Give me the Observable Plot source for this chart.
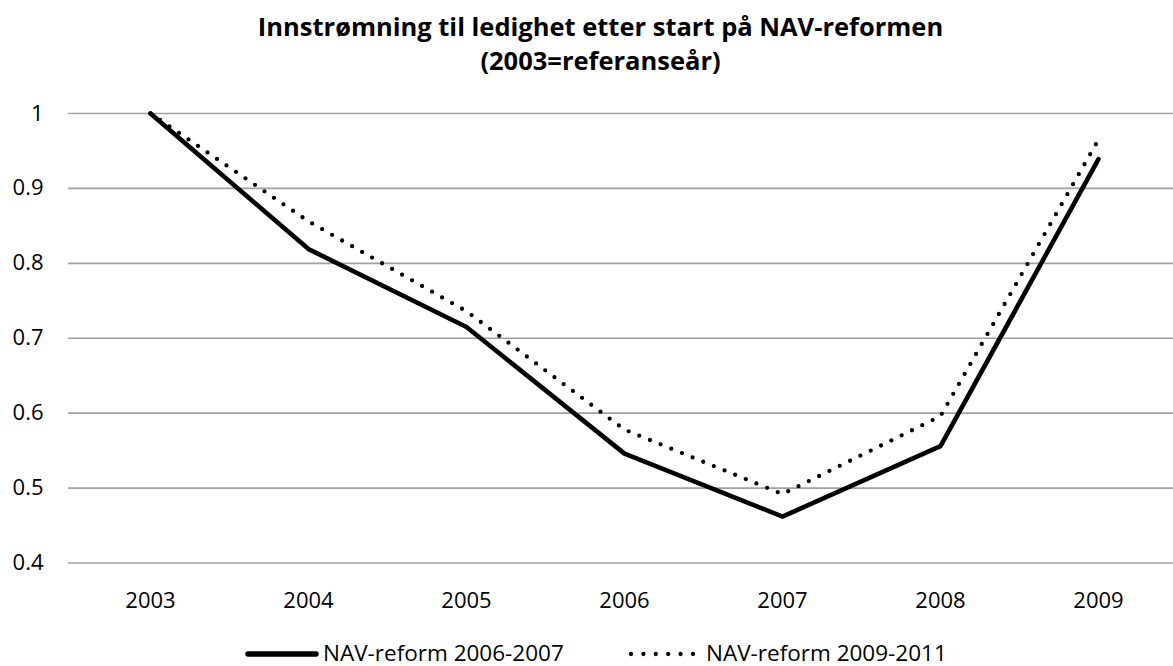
<!DOCTYPE html>
<html>
<head>
<meta charset="utf-8">
<script src="https://cdn.jsdelivr.net/npm/d3@7"></script>
<script src="https://cdn.jsdelivr.net/npm/@observablehq/plot@0.6"></script>
<style>
  html, body { margin: 0; padding: 0; background: #fff; }
  body { width: 1173px; height: 666px; overflow: hidden; font-family: "Open Sans", sans-serif; color: #000; position: relative; }
  #title { text-align: center; font-weight: bold; font-size: 25.5px; line-height: 34px; padding-top: 9px; padding-left: 28px; height: 71px; box-sizing: border-box; letter-spacing: 0px; }
  #chart svg { display: block; }
  #legend { position: absolute; left: 0; top: 641px; width: 1173px; height: 24px; font-size: 22.5px; }
  #legend .sample { position: absolute; top: 0; }
  #legend .label { position: absolute; top: 0; line-height: 24px; height: 24px; white-space: nowrap; }
</style>
</head>
<body>
<div id="title">Innstrømning til ledighet etter start på NAV-reformen<br>(2003=referanseår)</div>
<div id="chart"></div>
<div id="legend"></div>
<script>
const years = ["2003", "2004", "2005", "2006", "2007", "2008", "2009"];
const reform2006 = [1, 0.819, 0.715, 0.546, 0.462, 0.556, 0.939];
const reform2009 = [1, 0.856, 0.736, 0.578, 0.492, 0.596, 0.965];
const seriesNames = ["NAV-reform 2006-2007", "NAV-reform 2009-2011"];
const yTicks = [0.4, 0.5, 0.6, 0.7, 0.8, 0.9, 1];

const rows1 = years.map((y, i) => ({year: y, value: reform2006[i], series: seriesNames[0]}));
const rows2 = years.map((y, i) => ({year: y, value: reform2009[i], series: seriesNames[1]}));

const chart = Plot.plot({
  width: 1173,
  height: 546,
  marginTop: 42,
  marginBottom: 54.5,
  marginLeft: 68,
  marginRight: -6,
  style: {fontFamily: "Open Sans, sans-serif", fontSize: "22px", color: "#000", background: "#fff", overflow: "hidden"},
  x: {type: "point", domain: years, padding: 0.5, label: null},
  y: {domain: [0.4, 1], ticks: yTicks, label: null},
  marks: [
    Plot.ruleY(yTicks, {stroke: "#a0a0a0", strokeWidth: 1.6}),
    Plot.axisY({ticks: yTicks, tickSize: 0, tickPadding: 25, tickFormat: d => String(d), label: null}),
    Plot.axisX({tickSize: 0, tickPadding: 29, label: null}),
    Plot.line(rows2, {x: "year", y: "value", stroke: "#000", strokeWidth: 4.3, strokeDasharray: "0 11.5", strokeLinecap: "round"}),
    Plot.line(rows1, {x: "year", y: "value", stroke: "#000", strokeWidth: 4.6, strokeLinejoin: "miter"})
  ]
});
document.getElementById("chart").appendChild(chart);

// legend
const legend = document.getElementById("legend");
const ns = "http://www.w3.org/2000/svg";
function item(name, dashed, sampleLeft, textLeft) {
  const svg = document.createElementNS(ns, "svg");
  svg.setAttribute("class", "sample");
  svg.setAttribute("width", 80); svg.setAttribute("height", 24);
  svg.style.left = sampleLeft + "px";
  const l = document.createElementNS(ns, "line");
  l.setAttribute("x1", 3); l.setAttribute("x2", dashed ? 65 : 71);
  l.setAttribute("y1", 13); l.setAttribute("y2", 13);
  l.setAttribute("stroke", "#000");
  l.setAttribute("stroke-width", dashed ? 4.3 : 5.5);
  l.setAttribute("stroke-linecap", "round");
  if (dashed) l.setAttribute("stroke-dasharray", "0 12.4");
  svg.appendChild(l);
  legend.appendChild(svg);
  const span = document.createElement("div");
  span.className = "label";
  span.textContent = name;
  span.style.left = textLeft + "px";
  legend.appendChild(span);
}
item(seriesNames[0], false, 245, 323);
item(seriesNames[1], true, 628, 706);
</script>
</body>
</html>
